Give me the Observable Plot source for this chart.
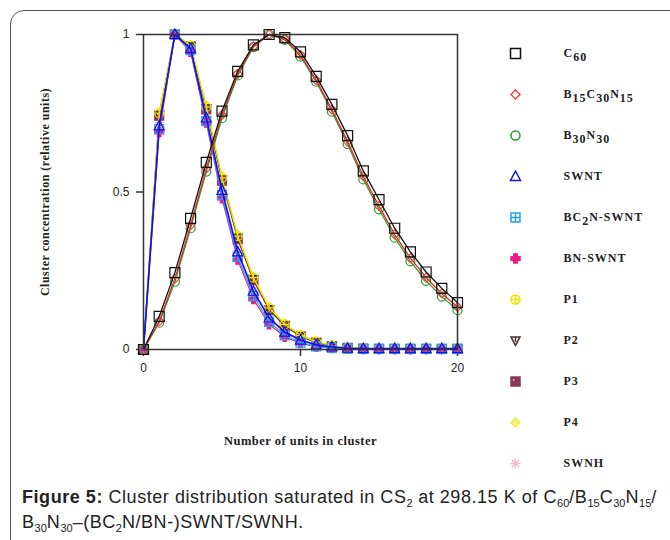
<!DOCTYPE html>
<html><head><meta charset="utf-8">
<script src="https://cdn.jsdelivr.net/npm/d3@7"></script>
<script src="https://cdn.jsdelivr.net/npm/@observablehq/plot@0.6"></script>
<style>
html,body{margin:0;padding:0;background:#fff;}
#page{position:relative;width:670px;height:540px;overflow:hidden;background:#fff;}
#border{position:absolute;left:10px;top:10px;width:720px;height:600px;border:1.5px solid #555;border-radius:14px;}
#chart{position:absolute;left:0;top:0;}
#legend{position:absolute;left:480px;top:0;}
#caption{position:absolute;left:22px;top:486px;font-family:"Liberation Sans",Arial,sans-serif;font-size:18px;letter-spacing:0.55px;line-height:23px;color:#222;white-space:nowrap;}
#caption sub{font-size:11px;vertical-align:baseline;position:relative;top:4px;letter-spacing:0;}
</style></head><body>
<div id="page"><div id="border"></div><div id="chart"></div><div id="legend"></div>
<div id="caption"><b>Figure 5:</b> Cluster distribution saturated in CS<sub>2</sub> at 298.15 K of C<sub>60</sub>/B<sub>15</sub>C<sub>30</sub>N<sub>15</sub>/<br>B<sub>30</sub>N<sub>30</sub>–(BC<sub>2</sub>N/BN-)SWNT/SWNH.</div>
</div>
<script>
// ---- data ----
const xUnits = [0,1,2,3,4,5,6,7,8,9,10,11,12,13,14,15,16,17,18,19,20];
const seriesNames = ["C60","B15C30N15","B30N30","SWNT","BC2N-SWNT","BN-SWNT","P1","P2","P3","P4","SWNH"];
const legendLabels = ["C_60","B_15C_30N_15","B_30N_30","SWNT","BC_2N-SWNT","BN-SWNT","P1","P2","P3","P4","SWNH"];
const xTicks = [0,10,20];
const yTicks = [0,0.5,1];
const xLabel = "Number of units in cluster";
const yLabel = "Cluster concentration (relative units)";

const c60       = [0,0.105,0.244,0.416,0.594,0.757,0.883,0.967,1.0,0.99,0.945,0.867,0.778,0.679,0.567,0.476,0.385,0.31,0.246,0.194,0.149];
const b15c30n15 = [0,0.09,0.225,0.395,0.575,0.745,0.875,0.962,1.0,0.985,0.935,0.855,0.762,0.66,0.55,0.455,0.365,0.29,0.228,0.178,0.135];
const b30n30    = [0,0.085,0.215,0.385,0.565,0.735,0.87,0.96,1.0,0.983,0.93,0.85,0.755,0.652,0.54,0.445,0.355,0.28,0.218,0.168,0.125];
const swnt      = [0,0.71,1.0,0.955,0.735,0.505,0.31,0.185,0.1,0.055,0.03,0.014,0.008,0.004,0.003,0.003,0.003,0.003,0.003,0.003,0.003];
const bc2nSwnt  = [0,0.70,1.0,0.95,0.725,0.49,0.295,0.17,0.088,0.045,0.022,0.01,0.005,0.003,0.002,0.002,0.002,0.002,0.002,0.002,0.002];
const bnSwnt    = [0,0.69,1.0,0.945,0.72,0.48,0.285,0.16,0.08,0.04,0.02,0.009,0.004,0.002,0.001,0.001,0.001,0.001,0.001,0.001,0.001];
const p1        = [0,0.75,1.0,0.965,0.77,0.545,0.36,0.228,0.132,0.08,0.045,0.025,0.012,0.006,0.003,0.002,0.002,0.002,0.002,0.002,0.002];
const p2        = [0,0.745,1.0,0.963,0.765,0.54,0.355,0.224,0.128,0.077,0.043,0.023,0.011,0.005,0.003,0.002,0.002,0.002,0.002,0.002,0.002];
const p3        = [0,0.742,1.0,0.962,0.762,0.536,0.35,0.22,0.125,0.075,0.041,0.022,0.01,0.005,0.003,0.002,0.002,0.002,0.002,0.002,0.002];
const p4        = [0,0.755,1.0,0.967,0.775,0.55,0.365,0.232,0.135,0.082,0.047,0.026,0.013,0.006,0.003,0.002,0.002,0.002,0.002,0.002,0.002];
const swnh      = [0,0.72,1.0,0.957,0.74,0.51,0.315,0.19,0.104,0.057,0.031,0.015,0.008,0.004,0.003,0.003,0.003,0.003,0.003,0.003,0.003];
const seriesValues = {"C60":c60,"B15C30N15":b15c30n15,"B30N30":b30n30,"SWNT":swnt,"BC2N-SWNT":bc2nSwnt,"BN-SWNT":bnSwnt,"P1":p1,"P2":p2,"P3":p3,"P4":p4,"SWNH":swnh};

// ---- custom symbols ----
const R = s => Math.sqrt(s/Math.PI);
const symSquare = {draw(c,s){const r=R(s);c.moveTo(-r,-r);c.lineTo(r,-r);c.lineTo(r,r);c.lineTo(-r,r);c.closePath();}};
const symDiamond = {draw(c,s){const r=R(s);c.moveTo(0,-r);c.lineTo(r,0);c.lineTo(0,r);c.lineTo(-r,0);c.closePath();}};
const symCircle = {draw(c,s){const r=R(s);c.moveTo(r,0);c.arc(0,0,r,0,2*Math.PI);}};
const symTriangle = {draw(c,s){const r=R(s);c.moveTo(0,-r*1.1);c.lineTo(r,r*0.8);c.lineTo(-r,r*0.8);c.closePath();}};
const symSquarePlus = {draw(c,s){const r=R(s);symSquare.draw(c,s);c.moveTo(-r,0);c.lineTo(r,0);c.moveTo(0,-r);c.lineTo(0,r);}};
const symCross = {draw(c,s){const r=R(s),w=r*0.38;const p=[[-w,-r],[w,-r],[w,-w],[r,-w],[r,w],[w,w],[w,r],[-w,r],[-w,w],[-r,w],[-r,-w],[-w,-w]];c.moveTo(...p[0]);for(const q of p.slice(1))c.lineTo(...q);c.closePath();}};
const symCirclePlus = {draw(c,s){const r=R(s);symCircle.draw(c,s);c.moveTo(-r,0);c.lineTo(r,0);c.moveTo(0,-r);c.lineTo(0,r);}};
const symInvTri = {draw(c,s){const r=R(s);c.moveTo(-r,-r*0.8);c.lineTo(r,-r*0.8);c.lineTo(0,r*1.1);c.closePath();c.moveTo(0,-r*0.8);c.lineTo(0,r*0.3);}};
const symHalfSquare = {draw(c,s){const r=R(s),i=1.4;symSquare.draw(c,s);c.moveTo(-r+i,-r+i);c.lineTo(-r+i,r-2.2*i);c.lineTo(r-2.2*i,-r+i);c.closePath();}};
const symAsterisk = {draw(c,s){const r=R(s),d=r*0.707;c.moveTo(-r,0);c.lineTo(r,0);c.moveTo(0,-r);c.lineTo(0,r);c.moveTo(-d,-d);c.lineTo(d,d);c.moveTo(-d,d);c.lineTo(d,-d);}};

const styles = {
  "C60":       {line:"#111",   lw:1.3, symbol:symSquare,     r:5,   stroke:"#111",   fill:"none"},
  "B15C30N15": {line:"#e02a2a",lw:1.3, symbol:symDiamond,    r:4.5, stroke:"#e8484a",fill:"none"},
  "B30N30":    {line:"#2a962a",lw:1.2, symbol:symCircle,     r:4.5, stroke:"#2a9a2a",fill:"none"},
  "SWNT":      {line:"#1010ee",lw:1.6, symbol:symTriangle,   r:5,   stroke:"#1010ee",fill:"none"},
  "BC2N-SWNT": {line:"#22a4ee",lw:1.2, symbol:symSquarePlus, r:4.5, stroke:"#22a4ee",fill:"none"},
  "BN-SWNT":   {line:"#ee1a8c",lw:1.2, symbol:symCross,      r:4.5, stroke:"#ee1a8c",fill:"#ee1a8c"},
  "P1":        {line:"#f2e200",lw:1.3, symbol:symCirclePlus, r:4.5, stroke:"#f2e200",fill:"none"},
  "P2":        {line:"#4a2c2c",lw:1.1, symbol:symInvTri,     r:4.5, stroke:"#4a2c2c",fill:"none"},
  "P3":        {line:"#8a3a58",lw:1.1, symbol:symHalfSquare, r:4.5, stroke:"#8a3a58",fill:"#8a3a58"},
  "P4":        {line:"#eeee50",lw:1.2, symbol:symDiamond,    r:4.5, stroke:"#eeee50",fill:"#f4f47a"},
  "SWNH":      {line:"#ffc4d8",lw:1.1, symbol:symAsterisk,   r:5,   stroke:"#ffb8d0",fill:"none"}
};

// ---- main chart ----
const marks = [];
for (const name of [...seriesNames].reverse()) {
  const st = styles[name];
  const data = xUnits.map((x,i)=>({x, y: seriesValues[name][i]}));
  marks.push(Plot.line(data,{x:"x",y:"y",stroke:st.line,strokeWidth:st.lw}));
  marks.push(Plot.dot(data,{x:"x",y:"y",symbol:st.symbol,r:st.r,stroke:st.stroke,fill:st.fill,strokeWidth:1.2}));
}
const chart = Plot.plot({
  width:480, height:470,
  marginLeft:143, marginRight:23, marginTop:34, marginBottom:121,
  style:{fontFamily:"'Liberation Sans',Arial,sans-serif", fontSize:"12px", color:"#222", background:"transparent"},
  x:{domain:[0,20]}, y:{domain:[0,1]},
  marks:[
    Plot.axisX({ticks:xTicks, tickFormat:d=>String(d), tickSize:7, tickPadding:7, label:null, stroke:"#333", strokeWidth:1.5}),
    Plot.axisY({ticks:yTicks, tickFormat:d=>String(d), tickSize:7, tickPadding:7, label:null, stroke:"#333", strokeWidth:1.5}),
    ...marks,
    Plot.frame({stroke:"#333", strokeWidth:1.5}),
    Plot.text([yLabel],{text:d=>d, frameAnchor:"left", textAnchor:"middle", rotate:-90, dx:-98, fontFamily:"'Liberation Serif',serif", fontWeight:"bold", fontSize:12, fill:"#222"}),
    Plot.text([xLabel],{text:d=>d, frameAnchor:"bottom", textAnchor:"middle", dy:95, fontFamily:"'Liberation Serif',serif", fontWeight:"bold", fontSize:12.5, fill:"#222"})
  ]
});
chart.querySelectorAll("text").forEach(t=>{
  const s=t.textContent;
  if (s===yLabel) t.style.letterSpacing="0.5px";
  if (s===xLabel) t.style.letterSpacing="0.5px";
});
document.getElementById("chart").appendChild(chart);

// ---- legend ----
const legData = seriesNames.map((n,i)=>({n, label:legendLabels[i]}));
const legMarks = [];
for (const d of legData) {
  const st = styles[d.n];
  legMarks.push(Plot.dot([d],{y:"n", frameAnchor:"left", dx:35, symbol:st.symbol, r:st.r, stroke:st.stroke, fill:st.fill, strokeWidth:1.5}));
}
legMarks.push(Plot.text(legData,{y:"n", text:"label", frameAnchor:"left", dx:83, textAnchor:"start", fontFamily:"'Liberation Serif',serif", fontWeight:"bold", fontSize:12, fill:"#222"}));
const legend = Plot.plot({
  width:190, height:490, margin:0,
  x:{axis:null},
  y:{type:"point", domain:seriesNames, range:[52,464], padding:0, axis:null},
  style:{background:"transparent"},
  marks:legMarks
});
legend.querySelectorAll("text").forEach(t=>{
  const s = t.textContent;
  if (!s.includes("_")) return;
  t.textContent = "";
  const parts = s.split(/_(\d+)/);
  parts.forEach((p,i)=>{
    if (!p) return;
    const ts = document.createElementNS("http://www.w3.org/2000/svg","tspan");
    ts.textContent = p;
    if (i%2===1) { ts.setAttribute("dy","4"); }
    else if (i>0) { ts.setAttribute("dy","-4"); }
    t.appendChild(ts);
  });
});
legend.style.letterSpacing = "1px";
document.getElementById("legend").appendChild(legend);
</script>
</body></html>
